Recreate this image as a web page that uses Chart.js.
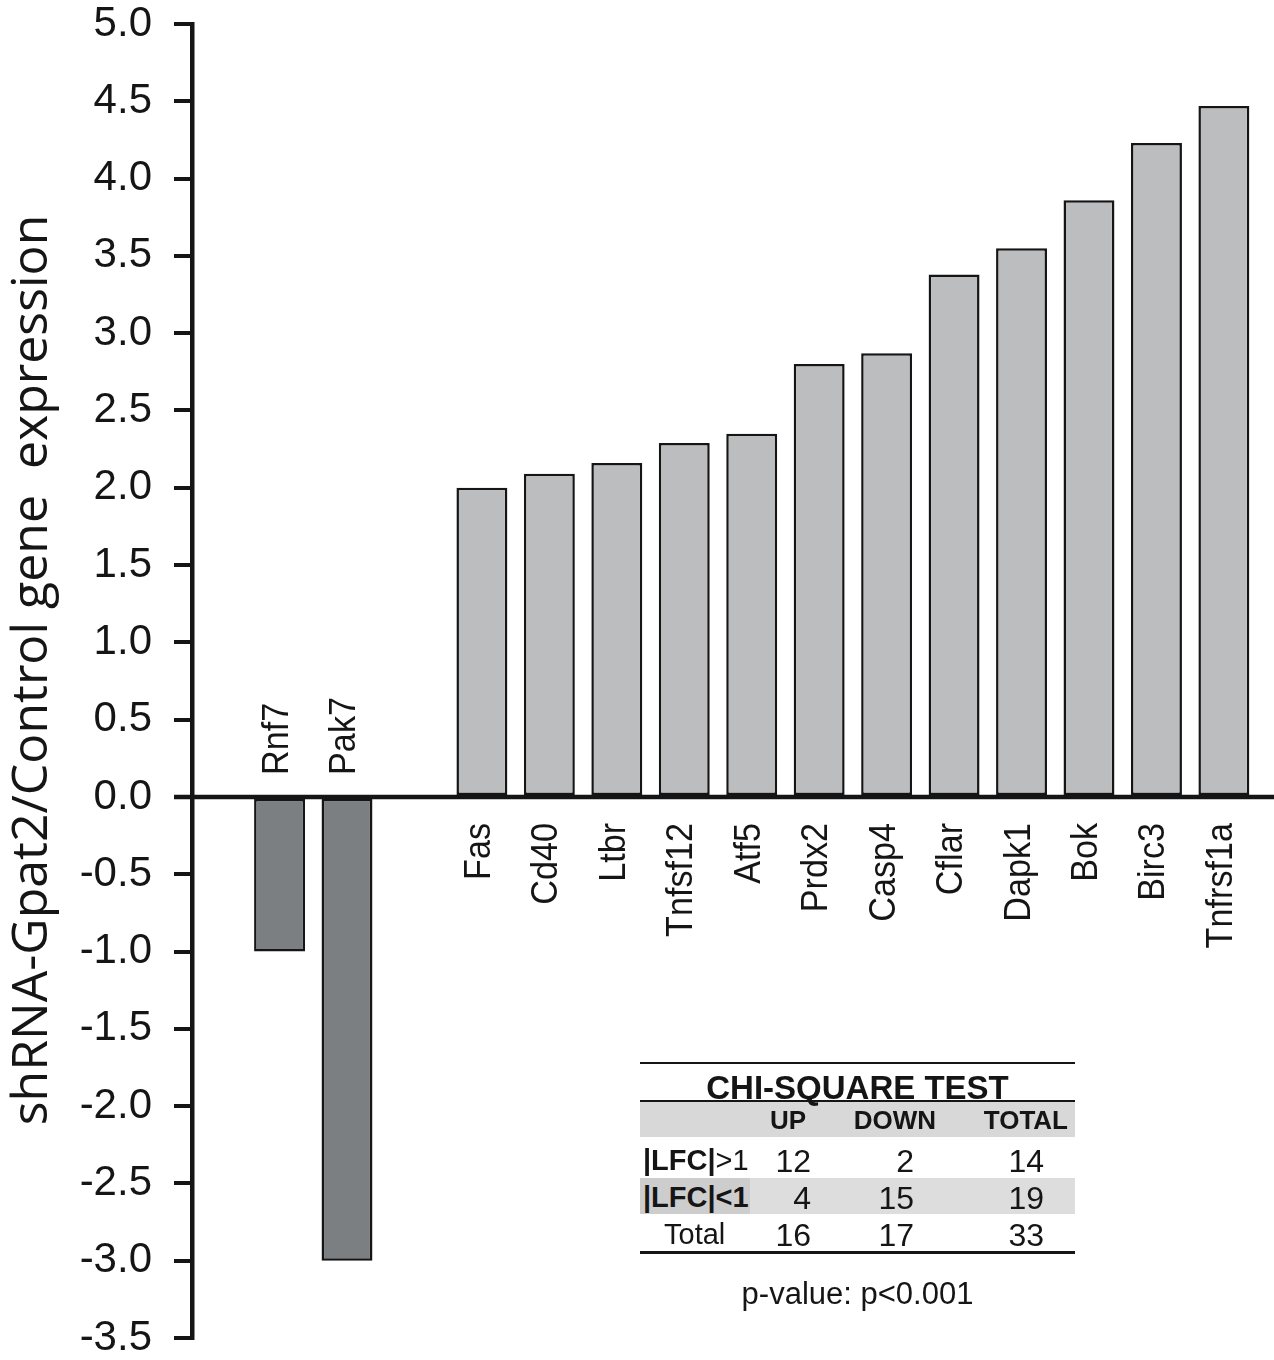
<!DOCTYPE html>
<html>
<head>
<meta charset="utf-8">
<script src="https://cdn.jsdelivr.net/npm/chart.js@4.4.1/dist/chart.umd.min.js"></script>
<style>
  html, body { margin: 0; padding: 0; background: #fff; }
  #wrap { position: relative; width: 1274px; height: 1360px; overflow: hidden; }
  #chart { position: absolute; left: 0; top: 0; }
  .t { position: absolute; font-family: "Liberation Sans", Arial, sans-serif; color: #151515;
       white-space: nowrap; line-height: 1; }
  .rule { position: absolute; background: #151515; }
  .band { position: absolute; }
</style>
</head>
<body>
<div id="wrap">
  <canvas id="chart" width="1274" height="1360"></canvas>
  <div id="chi"></div>
</div>
<script>
// Genes (blank slot separates down- from up-regulated genes)
const genes = ['Rnf7', 'Pak7', '', 'Fas', 'Cd40', 'Ltbr', 'Tnfsf12', 'Atf5', 'Prdx2',
               'Casp4', 'Cflar', 'Dapk1', 'Bok', 'Birc3', 'Tnfrsf1a'];
// shRNA-Gpat2 / control expression ratio
const expression = [-1.0, -3.0, null, 2.0, 2.09, 2.16, 2.29, 2.35, 2.80,
                    2.87, 3.38, 3.55, 3.86, 4.23, 4.47];

const yMin = -3.5, yMax = 5.0, yStep = 0.5;
const yTitle = 'shRNA-Gpat2/Control gene  expression';

// Chi-square contingency table
const chiTitle = 'CHI-SQUARE TEST';
const chiColumns = ['UP', 'DOWN', 'TOTAL'];
const chiRowLabels = ['|LFC|>1', '|LFC|<1', 'Total'];
const chiUp = [12, 4, 16];
const chiDown = [2, 15, 17];
const chiTotal = [14, 19, 33];
const pValueText = 'p-value: p<0.001';

const INK = '#151515';
const UP_FILL = '#bbbdbf';
const DOWN_FILL = '#7c7f82';

// Zero baseline, rotated gene names and the y-axis title
const geneLabels = {
  id: 'geneLabels',
  afterDatasetsDraw(chart) {
    const { ctx, chartArea, scales: { x, y } } = chart;
    const y0 = y.getPixelForValue(0);
    ctx.save();
    ctx.strokeStyle = INK;
    ctx.lineWidth = 4.5;
    ctx.beginPath();
    ctx.moveTo(chartArea.left - 18, y0);
    ctx.lineTo(chartArea.right, y0);
    ctx.stroke();

    ctx.fillStyle = INK;
    ctx.font = '36px "Liberation Sans", Arial, sans-serif';
    genes.forEach((g, i) => {
      if (!g || expression[i] === null) return;
      const up = expression[i] >= 0;
      const px = x.getPixelForValue(i);
      ctx.save();
      ctx.translate(px + 8, up ? y0 + 26 : y0 - 22);
      ctx.rotate(-Math.PI / 2);
      ctx.scale(0.95, 1);
      ctx.textAlign = up ? 'right' : 'left';
      ctx.textBaseline = 'alphabetic';
      ctx.fillText(g, 0, 0);
      ctx.restore();
    });

    // axis title
    ctx.save();
    ctx.translate(33, (chartArea.top + chartArea.bottom) / 2 - 11);
    ctx.rotate(-Math.PI / 2);
    ctx.font = '50px "Open Sans", "Noto Sans", sans-serif';
    ctx.textAlign = 'center';
    ctx.textBaseline = 'middle';
    ctx.fillText(yTitle, 0, 0);
    ctx.restore();
    ctx.restore();
  }
};

const points = genes
  .map((g, i) => ({ x: i, y: expression[i] }))
  .filter(p => p.y !== null);

new Chart(document.getElementById('chart'), {
  type: 'bar',
  data: {
    datasets: [{
      data: points,
      backgroundColor: c => (c.raw && c.raw.y < 0 ? DOWN_FILL : UP_FILL),
      borderColor: INK,
      borderWidth: 2.5,
      borderSkipped: false,
      categoryPercentage: 1,
      barPercentage: 0.755
    }]
  },
  options: {
    responsive: false,
    animation: false,
    devicePixelRatio: 1,
    layout: { padding: 0 },
    plugins: { legend: { display: false }, tooltip: { enabled: false } },
    scales: {
      x: { type: 'linear', display: false, offset: false, min: -1.298, max: 14.743 },
      y: {
        min: yMin,
        max: yMax,
        ticks: {
          stepSize: yStep,
          callback: v => Number(v).toFixed(1),
          color: INK,
          padding: 22,
          font: { family: '"Liberation Sans", Arial, sans-serif', size: 42, lineHeight: 1 }
        },
        grid: { drawOnChartArea: false, drawTicks: true, tickLength: 18, lineWidth: 4, color: INK },
        border: { display: true, width: 4.5, color: INK },
        title: { display: false },
        afterFit(scale) {
          scale.width = 192;
          scale.paddingTop = 24;
          scale.paddingBottom = 22;
        }
      }
    }
  },
  plugins: [geneLabels]
});

// Chi-square table drawn as HTML text over the chart
(function buildTable() {
  const box = document.getElementById('chi');
  const L = 640, R = 1075;
  function add(cls, style, text) {
    const d = document.createElement('div');
    d.className = cls;
    Object.assign(d.style, style);
    if (text !== undefined) d.innerHTML = text;
    box.appendChild(d);
    return d;
  }
  const esc = s => s.replace(/&/g, '&amp;').replace(/</g, '&lt;').replace(/>/g, '&gt;');
  // rules and shaded bands
  add('rule', { left: L + 'px', top: '1062px', width: (R - L) + 'px', height: '2px' });
  add('band', { left: L + 'px', top: '1102px', width: (R - L) + 'px', height: '35px', background: '#d8d8d8' });
  add('rule', { left: L + 'px', top: '1100px', width: (R - L) + 'px', height: '2px' });
  add('band', { left: L + 'px', top: '1178px', width: '110px', height: '36px', background: '#cdcdcd' });
  add('band', { left: (L + 110) + 'px', top: '1178px', width: (R - L - 110) + 'px', height: '36px', background: '#dddddd' });
  add('rule', { left: L + 'px', top: '1251px', width: (R - L) + 'px', height: '2.5px' });

  // title
  add('t', { left: L + 'px', width: (R - L) + 'px', top: '1071px', textAlign: 'center',
             fontSize: '33px', fontWeight: 'bold' }, esc(chiTitle));

  // header row (right edges of the three columns)
  const headRight = [806, 936, 1068];
  chiColumns.forEach((c, k) => {
    add('t', { left: (headRight[k] - 200) + 'px', width: '200px', top: '1107px', textAlign: 'right',
               fontSize: '26px', fontWeight: 'bold' }, esc(c));
  });

  // body rows
  const rowTop = [1146, 1183, 1220];
  const numRight = [811, 914, 1044];
  chiRowLabels.forEach((lab, r) => {
    let html;
    if (r === 0) html = '<b>' + esc(lab.slice(0, 5)) + '</b>' + esc(lab.slice(5));
    else if (r === 1) html = '<b>' + esc(lab) + '</b>';
    else html = esc(lab);
    const st = { top: rowTop[r] + 'px', fontSize: '29px' };
    st.left = r === 2 ? '664px' : '643px';
    add('t', st, html);
    [chiUp[r], chiDown[r], chiTotal[r]].forEach((v, k) => {
      add('t', { left: (numRight[k] - 100) + 'px', width: '100px', top: (rowTop[r] - 1) + 'px',
                 textAlign: 'right', fontSize: '32px' }, String(v));
    });
  });

  add('t', { left: L + 'px', width: (R - L) + 'px', top: '1278px', textAlign: 'center',
             fontSize: '31px' }, esc(pValueText));
})();
</script>
</body>
</html>
